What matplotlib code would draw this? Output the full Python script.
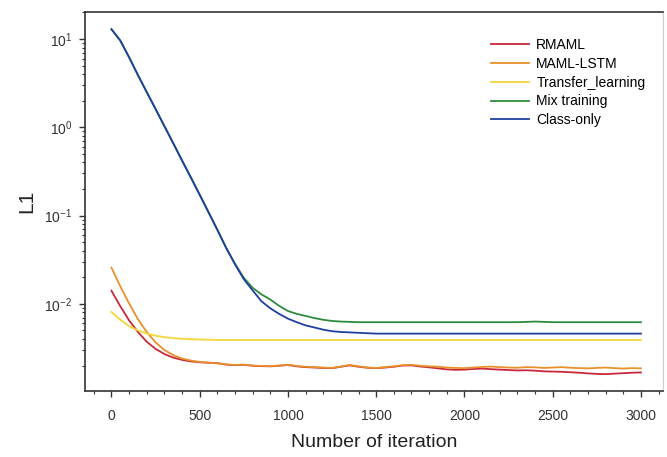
import numpy as np
import matplotlib
matplotlib.use("Agg")
from matplotlib import pyplot as plt
from matplotlib.ticker import MultipleLocator, LogLocator

plt.rcParams['font.family'] = ['Liberation Sans', 'DejaVu Sans']

# iteration grid (every 50 iterations)
iters = list(range(0, 3001, 50))

# L1 loss
rmaml = [0.0141, 0.0094, 0.0065, 0.0048, 0.00372, 0.00309, 0.0027, 0.00246, 0.00232, 0.00223,
         0.00218, 0.00215, 0.00213, 0.00205, 0.00202, 0.00204, 0.00199, 0.00197, 0.00196, 0.00199,
         0.00203, 0.00196, 0.00192, 0.00190, 0.00188, 0.00187, 0.00194, 0.00201, 0.00194, 0.00189,
         0.00187, 0.00190, 0.00194, 0.00200, 0.00201, 0.00195, 0.00191, 0.00186, 0.00181, 0.00179,
         0.00180, 0.00183, 0.00185, 0.00182, 0.00180, 0.00178, 0.00176, 0.00177, 0.00175, 0.00172,
         0.00171, 0.00170, 0.00168, 0.00166, 0.00163, 0.00161, 0.00160, 0.00162, 0.00164, 0.00166,
         0.00167]
maml_lstm = [0.0257, 0.0158, 0.0101, 0.0067, 0.0048, 0.00366, 0.0030, 0.00263, 0.0024, 0.00228,
             0.0022, 0.00216, 0.00212, 0.00206, 0.00203, 0.00205, 0.00200, 0.00198, 0.00197, 0.00200,
             0.00204, 0.00198, 0.00194, 0.00192, 0.00190, 0.00188, 0.00195, 0.00203, 0.00196, 0.00190,
             0.00188, 0.00192, 0.00196, 0.00202, 0.00204, 0.00199, 0.00196, 0.00194, 0.00190, 0.00188,
             0.00187, 0.00190, 0.00193, 0.00195, 0.00192, 0.00190, 0.00189, 0.00192, 0.00191, 0.00188,
             0.00190, 0.00192, 0.00189, 0.00187, 0.00186, 0.00188, 0.00190, 0.00187, 0.00185, 0.00187,
             0.00186]
transfer = [0.0081, 0.0066, 0.0056, 0.0050, 0.0046, 0.00436, 0.0042, 0.00409, 0.00402, 0.00398,
            0.00395, 0.00393, 0.0039, 0.0039, 0.0039, 0.0039, 0.0039, 0.0039, 0.0039, 0.0039,
            0.0039, 0.0039, 0.0039, 0.0039, 0.0039, 0.0039, 0.0039, 0.0039, 0.0039, 0.0039,
            0.0039, 0.0039, 0.0039, 0.0039, 0.0039, 0.0039, 0.0039, 0.0039, 0.0039, 0.0039,
            0.0039, 0.0039, 0.0039, 0.0039, 0.0039, 0.0039, 0.0039, 0.0039, 0.0039, 0.0039,
            0.0039, 0.0039, 0.0039, 0.0039, 0.0039, 0.0039, 0.0039, 0.0039, 0.0039, 0.0039,
            0.0039]
mix = [12.9, 9.6, 6.2, 3.9, 2.5, 1.61, 1.03, 0.66, 0.42, 0.27,
       0.172, 0.109, 0.069, 0.043, 0.0285, 0.0197, 0.0152, 0.0128, 0.0112, 0.0095,
       0.0083, 0.0077, 0.0073, 0.0069, 0.0066, 0.0064, 0.0063, 0.00625, 0.0062, 0.0062,
       0.0062, 0.0062, 0.0062, 0.0062, 0.0062, 0.0062, 0.0062, 0.0062, 0.0062, 0.0062,
       0.0062, 0.0062, 0.0062, 0.0062, 0.0062, 0.0062, 0.0062, 0.00625, 0.0063, 0.00625,
       0.0062, 0.0062, 0.0062, 0.0062, 0.0062, 0.0062, 0.0062, 0.0062, 0.0062, 0.0062,
       0.0062]
class_only = [12.9, 9.6, 6.2, 3.9, 2.5, 1.61, 1.03, 0.66, 0.42, 0.27,
              0.172, 0.109, 0.069, 0.043, 0.028, 0.019, 0.0142, 0.0107, 0.0089, 0.0077,
              0.0068, 0.0062, 0.0057, 0.0054, 0.0051, 0.0049, 0.0048, 0.00475, 0.0047, 0.00465,
              0.0046, 0.0046, 0.0046, 0.0046, 0.0046, 0.0046, 0.0046, 0.0046, 0.0046, 0.0046,
              0.0046, 0.0046, 0.0046, 0.0046, 0.0046, 0.0046, 0.0046, 0.0046, 0.0046, 0.0046,
              0.0046, 0.0046, 0.0046, 0.0046, 0.0046, 0.0046, 0.0046, 0.0046, 0.0046, 0.0046,
              0.0046]

names = ['RMAML', 'MAML-LSTM', 'Transfer_learning', 'Mix training', 'Class-only']
colors = ['#c8283c', '#e8902a', '#f5d63a', '#2e8b3e', '#1f3f9e']
series = [rmaml, maml_lstm, transfer, mix, class_only]

fig = plt.figure(figsize=(6.67, 4.57), dpi=100)
ax = fig.add_axes([0.1274, 0.1444, 0.8666, 0.8293])

for s, c, n in zip(series, colors, names):
    ax.plot(iters, s, color=c, lw=1.3, label=n)

ax.set_yscale('log')
ax.set_ylim(1.03e-3, 20.2)
ax.set_xlim(-150, 3125)
ax.xaxis.set_major_locator(MultipleLocator(500))
ax.xaxis.set_minor_locator(MultipleLocator(100))
ax.yaxis.set_major_locator(LogLocator(base=10, numticks=10))
ax.yaxis.set_minor_locator(LogLocator(base=10, subs=np.arange(2, 10), numticks=20))

ax.tick_params(which='major', direction='out', length=4, width=1, labelsize=10, colors='#333333')
ax.tick_params(which='minor', direction='out', length=2.5, width=0.8, colors='#333333')
ax.tick_params(axis='x', which='major', pad=9)
ax.tick_params(axis='y', which='major', pad=5)

for s in ['left', 'bottom', 'top']:
    ax.spines[s].set_color('#333333')
    ax.spines[s].set_linewidth(1.2)
ax.spines['right'].set_color('#cccccc')

ax.set_xlabel('Number of iteration', fontsize=14, color='#222222', labelpad=8)
ax.set_ylabel('L1', fontsize=15, color='#222222', labelpad=6)

ax.legend(loc='upper left', bbox_to_anchor=(0.68, 0.965), frameon=False, fontsize=10,
          handlelength=2.8, labelspacing=0.35, handletextpad=0.5)

fig.savefig('out.png', dpi=100)
